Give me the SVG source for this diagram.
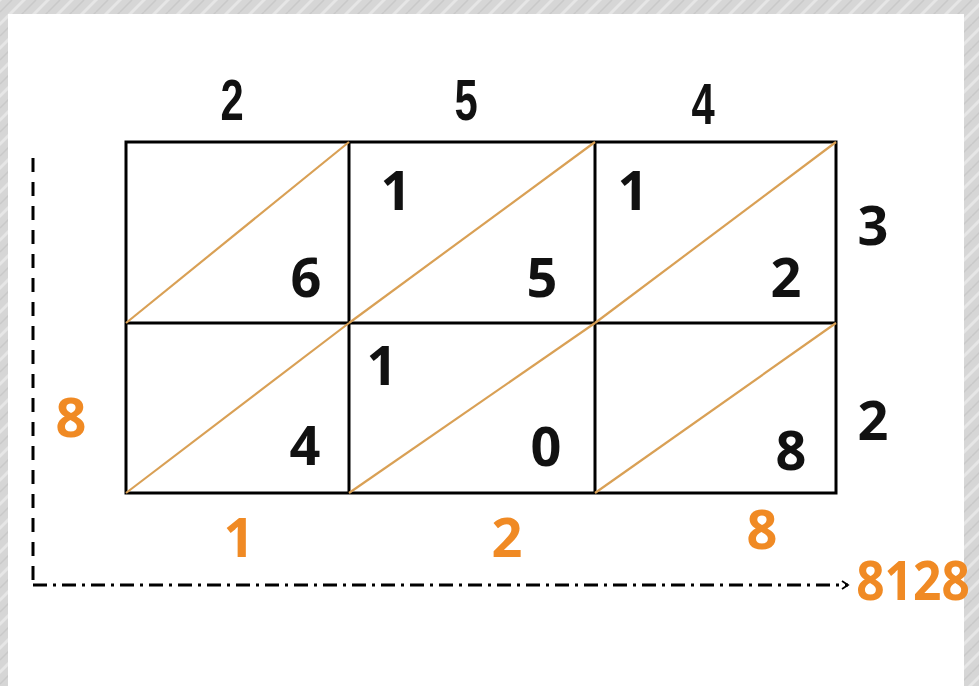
<svg xmlns="http://www.w3.org/2000/svg" width="979" height="686" viewBox="0 0 979 686">
<defs>
<pattern id="tex" width="24" height="24" patternUnits="userSpaceOnUse">
<rect width="24" height="24" fill="#d6d6d6"/>
<path d="M0 24 L24 0 M-6 6 L6 -6 M18 30 L30 18" stroke="#e6e6e6" stroke-width="3"/>
<path d="M0 12 L12 0 M12 24 L24 12" stroke="#c9c9c9" stroke-width="1.5"/>
</pattern>
<marker id="arr" markerWidth="10" markerHeight="10" refX="8" refY="5" orient="auto" markerUnits="userSpaceOnUse">
<path d="M2 1 L8 5 L2 9" fill="none" stroke="#000" stroke-width="1.8"/>
</marker>
</defs>
<style>
.cell{fill:none;stroke:#000;stroke-width:3}
.diag{stroke:#d9a055;stroke-width:2.2}
.d{font-family:"Open Sans","Liberation Sans",sans-serif;font-weight:700;font-size:54px;fill:#111;text-anchor:middle}
.n{font-family:"Liberation Sans",sans-serif;font-weight:700;font-size:58px;fill:#111;text-anchor:middle}
.o{font-family:"Open Sans","Liberation Sans",sans-serif;font-weight:700;font-size:54px;fill:#f08a24;text-anchor:middle}
.dash{fill:none;stroke:#000;stroke-width:3}
</style>
<rect width="979" height="686" fill="url(#tex)"/>
<rect x="8" y="14" width="956" height="672" fill="#fff"/>

<g id="grid">
<rect class="cell" x="126" y="142" width="710" height="351"/>
<line class="cell" x1="349" y1="142" x2="349" y2="493"/>
<line class="cell" x1="595" y1="142" x2="595" y2="493"/>
<line class="cell" x1="126" y1="323" x2="836" y2="323"/>
</g>

<g id="diagonals">
<line class="diag" x1="126" y1="323" x2="349" y2="142"/>
<line class="diag" x1="349" y1="323" x2="595" y2="142"/>
<line class="diag" x1="595" y1="323" x2="836" y2="142"/>
<line class="diag" x1="126" y1="493" x2="349" y2="323"/>
<line class="diag" x1="349" y1="493" x2="595" y2="323"/>
<line class="diag" x1="595" y1="493" x2="836" y2="323"/>
</g>

<g id="top-digits">
<text class="n" transform="translate(232 120) scale(0.72 1)">2</text>
<text class="n" transform="translate(466 120) scale(0.72 1)">5</text>
<text class="n" transform="translate(703 124) scale(0.72 1)">4</text>
</g>

<g id="cell-r1c1"><text class="d" x="306" y="297">6</text></g>
<g id="cell-r1c2"><text class="d" x="396" y="210">1</text><text class="d" x="542" y="297">5</text></g>
<g id="cell-r1c3"><text class="d" x="633" y="210">1</text><text class="d" x="786" y="297">2</text></g>
<g id="cell-r2c1"><text class="d" x="305" y="465">4</text></g>
<g id="cell-r2c2"><text class="d" x="382" y="385">1</text><text class="d" x="546" y="466">0</text></g>
<g id="cell-r2c3"><text class="d" x="791" y="470">8</text></g>

<g id="right-digits">
<text class="d" x="873" y="245">3</text>
<text class="d" x="873" y="440">2</text>
</g>

<g id="results">
<text class="o" x="71" y="437">8</text>
<text class="o" x="239" y="557">1</text>
<text class="o" x="507" y="557">2</text>
<text class="o" x="762" y="549">8</text>
<text class="o" transform="translate(913 600) scale(0.92 1)">8128</text>
</g>

<g id="connectors">
<path class="dash" d="M33 158 L33 585" stroke-dasharray="14 10"/>
<path class="dash" d="M33 585 L848 585" stroke-dasharray="14 6 3 6" marker-end="url(#arr)"/>
</g>
</svg>
